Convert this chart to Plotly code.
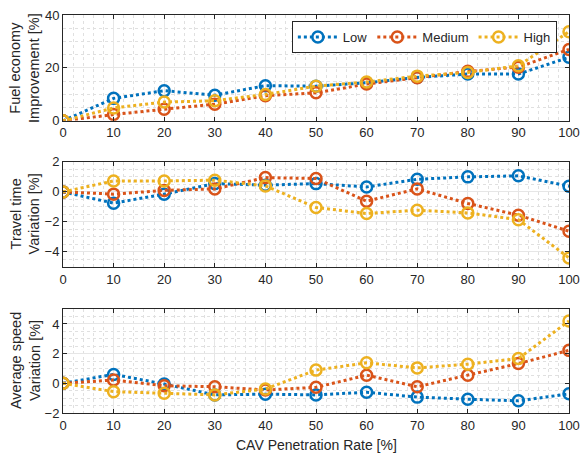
import plotly.graph_objects as go

rate = [0, 10, 20, 30, 40, 50, 60, 70, 80, 90, 100]
series_names = ["Low", "Medium", "High"]
colors = ["#0072BD", "#D95319", "#EDB120"]

fuel_low = [0, 8.5, 11.4, 9.7, 13.3, 13.1, 14.4, 16.4, 17.7, 17.7, 24.0]
fuel_med = [0, 2.4, 4.4, 6.3, 9.5, 10.6, 13.9, 16.3, 18.7, 20.3, 27.0]
fuel_high = [0, 4.9, 7.1, 7.6, 10.0, 13.1, 14.7, 16.9, 18.3, 20.8, 33.7]

tt_low = [0, -0.75, -0.15, 0.55, 0.45, 0.55, 0.33, 0.84, 1.0, 1.07, 0.38]
tt_med = [0, -0.15, 0.1, 0.2, 0.95, 0.89, -0.62, 0.2, -0.77, -1.55, -2.62]
tt_high = [0, 0.73, 0.73, 0.78, 0.4, -1.04, -1.44, -1.22, -1.4, -1.85, -4.4]

sp_low = [0, 0.6, -0.05, -0.78, -0.73, -0.78, -0.6, -0.93, -1.07, -1.18, -0.71]
sp_med = [0, 0.22, -0.16, -0.23, -0.45, -0.27, 0.55, -0.23, 0.55, 1.33, 2.22]
sp_high = [0, -0.56, -0.67, -0.78, -0.38, 0.89, 1.38, 1.04, 1.29, 1.67, 4.2]

panels = [
    ([fuel_low, fuel_med, fuel_high], "Fuel economy<br>Improvement [%]", [0, 40], [0, 20, 40], 5),
    ([tt_low, tt_med, tt_high], "Travel time<br>Variation [%]", [-5, 2], [-4, -2, 0, 2], 0.5),
    ([sp_low, sp_med, sp_high], "Average speed<br>Variation [%]", [-2, 5], [-2, 0, 2, 4], 0.5),
]
domains = [[0.734, 1.0], [0.367, 0.631], [0.0, 0.261]]
x_title = "CAV Penetration Rate [%]"

fig = go.Figure()
axis_color = "#262626"
font_family = "Liberation Sans, Arial, sans-serif"

for p, (data, title, yr, yt, ymin) in enumerate(panels):
    sfx = "" if p == 0 else str(p + 1)
    for i, vals in enumerate(data):
        fig.add_trace(go.Scatter(
            x=rate, y=vals, name=series_names[i],
            mode="lines+markers",
            line=dict(color=colors[i], width=3, dash="dot"),
            marker=dict(symbol="circle-open", size=11, color=colors[i],
                        line=dict(width=2.5, color=colors[i])),
            xaxis="x" + sfx, yaxis="y" + sfx,
            showlegend=(p == 0),
        ))
    common = dict(
        showline=True, linecolor=axis_color, linewidth=1, mirror="ticks",
        ticks="inside", ticklen=4, tickcolor=axis_color,
        tickfont=dict(size=13, color=axis_color),
        showgrid=True, gridcolor="#e6e6e6", gridwidth=1, zeroline=False,
        automargin=False,
    )
    fig.layout["xaxis" + sfx] = dict(
        common, domain=[0, 1], range=[0, 100], tickvals=list(range(0, 101, 10)),
        anchor="y" + sfx,
        minor=dict(dtick=2, showgrid=True, gridcolor="#e0e0e0", griddash="dot", ticks=""),
    )
    fig.layout["yaxis" + sfx] = dict(
        common, domain=domains[p], range=yr, tickvals=yt, anchor="x" + sfx,
        minor=dict(dtick=ymin, showgrid=True, gridcolor="#e0e0e0", griddash="dot", ticks=""),
    )
    fig.add_annotation(
        text=title, textangle=-90, showarrow=False,
        xref="paper", yref="paper", x=0, y=(domains[p][0] + domains[p][1]) / 2,
        xanchor="center", yanchor="middle", xshift=-38,
        font=dict(size=14.5, color=axis_color),
    )

fig.add_annotation(
    text=x_title, showarrow=False, xref="paper", yref="paper", x=0.5, y=0,
    xanchor="center", yanchor="middle", yshift=-32,
    font=dict(size=14, color=axis_color),
)

fig.update_layout(
    width=581, height=455,
    margin=dict(l=63, r=12, t=15, b=42),
    paper_bgcolor="white", plot_bgcolor="white",
    font=dict(family=font_family, color=axis_color),
    legend=dict(orientation="h", x=0.976, xanchor="right", y=0.985, yanchor="top",
                bordercolor=axis_color, borderwidth=1, bgcolor="white",
                font=dict(size=13), tracegroupgap=0, itemwidth=40),
)

fig.write_html("out.html")
